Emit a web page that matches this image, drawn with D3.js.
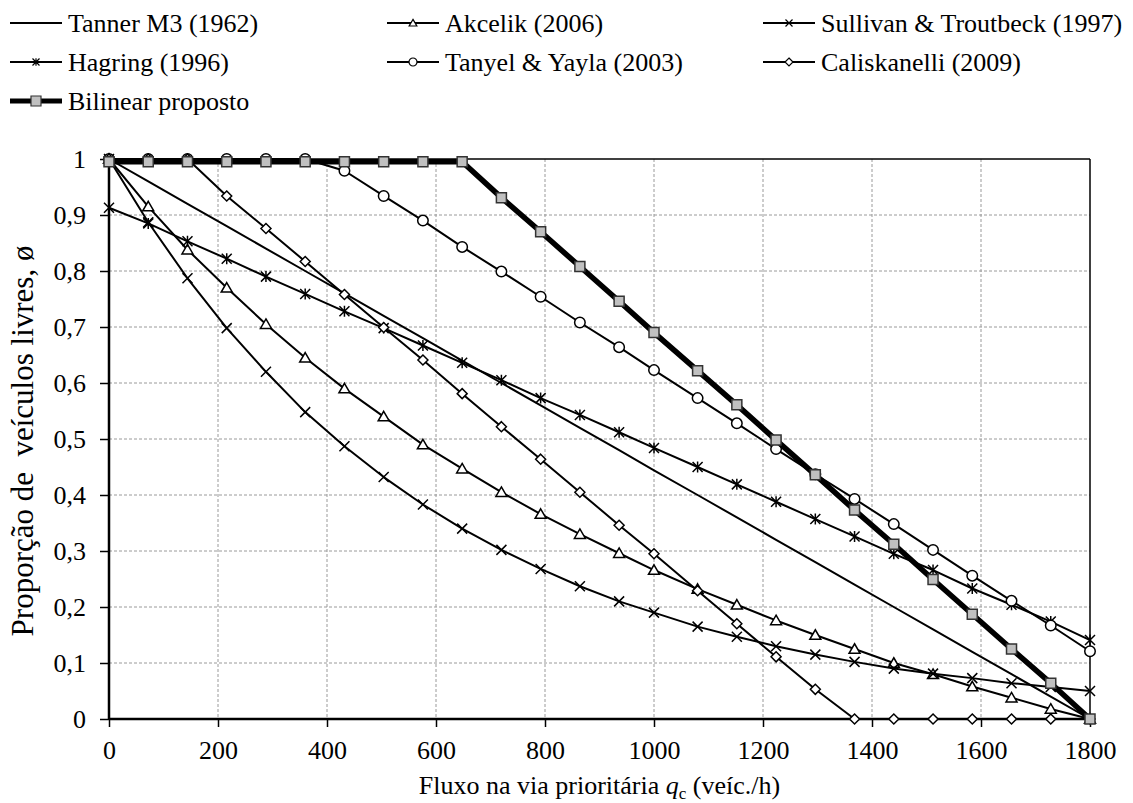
<!DOCTYPE html>
<html>
<head>
<meta charset="utf-8">
<script src="https://cdn.jsdelivr.net/npm/d3@7"></script>
<style>
html,body{margin:0;padding:0;background:#fff;}
</style>
</head>
<body>
<svg id="chart" width="1133" height="803"></svg>
<script>
// ---- data ----
const flows = [0,72,144,216,288,360,432,504,576,648,720,792,864,936,1000,1080,1152,1224,1296,1368,1440,1512,1584,1656,1728,1800];
const tanner = [1,0.96,0.92,0.88,0.84,0.8,0.76,0.72,0.68,0.64,0.6,0.56,0.52,0.48,0.444,0.4,0.36,0.32,0.28,0.24,0.2,0.16,0.12,0.08,0.04,0];
const akcelik = [1,0.915,0.838,0.77,0.705,0.645,0.59,0.54,0.49,0.447,0.405,0.366,0.33,0.296,0.266,0.232,0.204,0.176,0.15,0.125,0.1,0.08,0.058,0.038,0.018,0];
const sullivan = [1,0.887,0.787,0.698,0.62,0.548,0.487,0.432,0.383,0.34,0.302,0.268,0.237,0.21,0.19,0.165,0.147,0.13,0.115,0.102,0.09,0.081,0.073,0.064,0.057,0.05];
const hagring = [0.913,0.885,0.853,0.822,0.79,0.759,0.728,0.698,0.667,0.636,0.605,0.573,0.543,0.512,0.484,0.45,0.419,0.388,0.357,0.326,0.295,0.266,0.233,0.204,0.174,0.141];
const tanyel = [1,1,1,1,1,1,0.979,0.934,0.89,0.843,0.799,0.754,0.708,0.664,0.623,0.573,0.528,0.482,0.437,0.393,0.348,0.302,0.256,0.211,0.167,0.121];
const caliskanelli = [1,1,1,0.934,0.876,0.817,0.758,0.699,0.641,0.581,0.522,0.464,0.405,0.346,0.295,0.229,0.17,0.111,0.053,0,0,0,0,0,0,0];
const bilinear = [0.995,0.995,0.995,0.995,0.995,0.995,0.995,0.995,0.995,0.995,0.931,0.87,0.808,0.746,0.69,0.622,0.561,0.498,0.436,0.373,0.312,0.249,0.187,0.125,0.064,0];
const seriesNames = ["Tanner M3 (1962)","Akcelik (2006)","Sullivan & Troutbeck (1997)","Hagring (1996)","Tanyel & Yayla (2003)","Caliskanelli (2009)","Bilinear proposto"];
const xTicks = [0,200,400,600,800,1000,1200,1400,1600,1800];
const yTicks = [0,0.1,0.2,0.3,0.4,0.5,0.6,0.7,0.8,0.9,1];
const yTickLabels = ["0","0,1","0,2","0,3","0,4","0,5","0,6","0,7","0,8","0,9","1"];

// ---- setup ----
const FONT = "'Liberation Serif', 'Times New Roman', Tinos, 'DejaVu Serif', serif";
const svg = d3.select("#chart");
const L = 109, R = 1090, T = 159, B = 719;
const x = d3.scaleLinear().domain([0,1800]).range([L,R]);
const y = d3.scaleLinear().domain([0,1]).range([B,T]);

function markerPath(type, s){
  const h = s/2;
  switch(type){
    case "tri": return `M0,${-h*1.05}L${h*1.1},${h*0.85}L${-h*1.1},${h*0.85}Z`;
    case "diamond": return `M0,${-h}L${h},0L0,${h}L${-h},0Z`;
    case "square": return `M${-h},${-h}H${h}V${h}H${-h}Z`;
    case "x": return `M${-h},${-h}L${h},${h}M${-h},${h}L${h},${-h}`;
    case "star": return `M${-h},${-h}L${h},${h}M${-h},${h}L${h},${-h}M0,${-h*1.1}V${h*1.1}`;
    case "circle": return `M${h},0A${h},${h} 0 1,1 ${-h},0A${h},${h} 0 1,1 ${h},0Z`;
  }
  return "";
}

const series = [
  {name:seriesNames[0], vals:tanner, marker:null, lw:2},
  {name:seriesNames[1], vals:akcelik, marker:"tri", lw:2, fill:"#fff", size:10, lsize:7},
  {name:seriesNames[2], vals:sullivan, marker:"x", lw:2, fill:"none", size:10, lsize:7},
  {name:seriesNames[3], vals:hagring, marker:"star", lw:2, fill:"none", size:10, lsize:7},
  {name:seriesNames[4], vals:tanyel, marker:"circle", lw:2, fill:"#fff", size:10.5, lsize:8},
  {name:seriesNames[5], vals:caliskanelli, marker:"diamond", lw:2, fill:"#fff", size:10, lsize:8},
  {name:seriesNames[6], vals:bilinear, marker:"square", lw:5.5, fill:"#c0c0c0", size:10, lsize:10, mstroke:"#333"}
];

// grid
const grid = svg.append("g");
grid.selectAll("line.v").data(xTicks.filter(d=>d>0&&d<1800)).enter().append("line")
  .attr("x1",d=>x(d)).attr("x2",d=>x(d)).attr("y1",T).attr("y2",B)
  .attr("stroke","#9a9a9a").attr("stroke-width",1).attr("stroke-dasharray","3,2");
grid.selectAll("line.h").data(yTicks.filter(d=>d>0&&d<1)).enter().append("line")
  .attr("y1",d=>y(d)).attr("y2",d=>y(d)).attr("x1",L).attr("x2",R)
  .attr("stroke","#9a9a9a").attr("stroke-width",1).attr("stroke-dasharray","3,2");

svg.append("line").attr("x1",L).attr("x2",R).attr("y1",T).attr("y2",T).attr("stroke","#000").attr("stroke-width",1.5);
svg.append("line").attr("x1",R).attr("x2",R).attr("y1",T).attr("y2",B).attr("stroke","#000").attr("stroke-width",1.5);

// axes
const xAxis = d3.axisBottom(x).tickValues(xTicks).tickSize(8).tickPadding(14).tickFormat(d=>String(d));
const gx = svg.append("g").attr("transform",`translate(0,${B})`).call(xAxis);
gx.select(".domain").attr("stroke","#000").attr("stroke-width",2.5).attr("d",`M${L},0H${R}`);
gx.selectAll(".tick line").attr("stroke","#000").attr("stroke-width",1.5);

const yAxis = d3.axisLeft(y).tickValues(yTicks).tickSize(9).tickPadding(14).tickFormat((d,i)=>yTickLabels[i]);
const gy = svg.append("g").attr("transform",`translate(${L},0)`).call(yAxis);
gy.select(".domain").attr("stroke","#000").attr("stroke-width",2.5).attr("d",`M0,${B}V${T}`);
gy.selectAll(".tick line").attr("stroke","#000").attr("stroke-width",1.5);

// series
const lineGen = d3.line().x(d=>x(d[0])).y(d=>y(d[1]));
series.forEach(s=>{
  const pts = flows.map((f,i)=>[f,s.vals[i]]);
  const g = svg.append("g");
  g.append("path").attr("d",lineGen(pts)).attr("fill","none").attr("stroke","#000")
    .attr("stroke-width",s.lw).attr("stroke-linejoin","round");
  if(s.marker){
    g.selectAll("path.m").data(pts).enter().append("path")
      .attr("transform",d=>`translate(${x(d[0])},${y(d[1])})`)
      .attr("d",markerPath(s.marker,s.size))
      .attr("fill",s.fill).attr("stroke",s.mstroke||"#000").attr("stroke-width",1.5);
  }
});

// legend
const legX = [10,387,763];
const legY = [23,62,101];
series.forEach((s,i)=>{
  const cx = legX[i%3], cy = legY[Math.floor(i/3)];
  const g = svg.append("g").attr("transform",`translate(${cx},${cy})`);
  g.append("line").attr("x1",0).attr("x2",52).attr("y1",0).attr("y2",0).attr("stroke","#000").attr("stroke-width",s.lw===2?2:5);
  if(s.marker){
    g.append("path").attr("transform","translate(26,0)").attr("d",markerPath(s.marker,s.lsize))
      .attr("fill",s.fill==="none"?"none":s.fill).attr("stroke",s.mstroke||"#000").attr("stroke-width",1.2);
  }
  g.append("text").attr("x",58).attr("y",9).text(s.name);
});

// axis titles
const xt = svg.append("text").attr("x",(L+R)/2).attr("y",794).attr("text-anchor","middle");
xt.append("tspan").text("Fluxo na via prioritária ");
xt.append("tspan").style("font-style","italic").text("q");
xt.append("tspan").style("font-size","17px").attr("dy",5).text("c");
xt.append("tspan").attr("dy",-5).text(" (veíc./h)");

svg.append("text").attr("transform",`translate(33,${(T+B)/2 + 2}) rotate(-90)`)
  .attr("text-anchor","middle").style("white-space","pre").style("font-size","31px")
  .text("Proporção de  veículos livres, ø");

// force font on all text
svg.selectAll("text").style("font-family",FONT).style("font-size",function(){
  return this.style.fontSize || "26px";
}).style("fill","#000");
svg.selectAll("g").attr("font-family",null);
</script>
</body>
</html>
